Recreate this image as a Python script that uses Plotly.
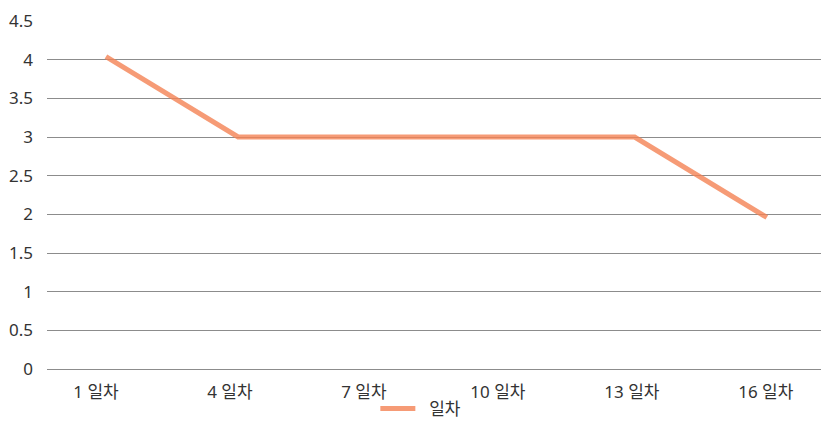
import plotly.graph_objects as go

categories = ["1 일차", "4 일차", "7 일차", "10 일차", "13 일차", "16 일차"]
values = [4.04, 3, 3, 3, 3, 1.96]
series_name = "일차"
y_ticks = [0, 0.5, 1, 1.5, 2, 2.5, 3, 3.5, 4, 4.5]
y_ticktext = ["0", "0.5", "1", "1.5", "2", "2.5", "3", "3.5", "4", "4.5"]

x_pos = list(range(len(categories)))
# category labels sit on a slightly wider pitch than the points, as in the original
label_pos = [i * 1.0136 - 0.0755 for i in x_pos]

FONT = "Noto Sans, Noto Sans CJK KR, sans-serif"

fig = go.Figure()
fig.add_trace(go.Scatter(
    x=x_pos, y=values, mode="lines", name="\u00a0\u00a0" + series_name,
    line=dict(color="rgba(244,130,84,0.8)", width=5),
    showlegend=True,
))

fig.update_layout(
    width=821, height=427,
    margin=dict(l=47, r=0, t=21, b=58),
    paper_bgcolor="white", plot_bgcolor="white",
    font=dict(family=FONT, size=17, color="#333333"),
    xaxis=dict(
        tickmode="array", tickvals=label_pos, ticktext=categories,
        range=[-0.446, 5.41], showgrid=False, zeroline=False,
        showline=False, ticks="outside", ticklen=8, tickcolor="rgba(0,0,0,0)",
        tickfont=dict(family=FONT, size=17, color="#333333"),
    ),
    yaxis=dict(
        tickmode="array", tickvals=y_ticks, ticktext=y_ticktext,
        range=[0, 4.5], showgrid=True, gridcolor="#8c8c8c", gridwidth=1,
        zeroline=True, zerolinecolor="#8c8c8c", zerolinewidth=1,
        showline=False, ticks="", ticklabelstandoff=13,
        tickfont=dict(family=FONT, size=17, color="#333333"),
    ),
    legend=dict(
        orientation="h", x=0.483, xanchor="center", y=-0.115, yanchor="middle",
        bgcolor="rgba(0,0,0,0)",
        font=dict(family=FONT, size=17, color="#333333"), itemwidth=35,
    ),
)

fig.write_html("out.html")
